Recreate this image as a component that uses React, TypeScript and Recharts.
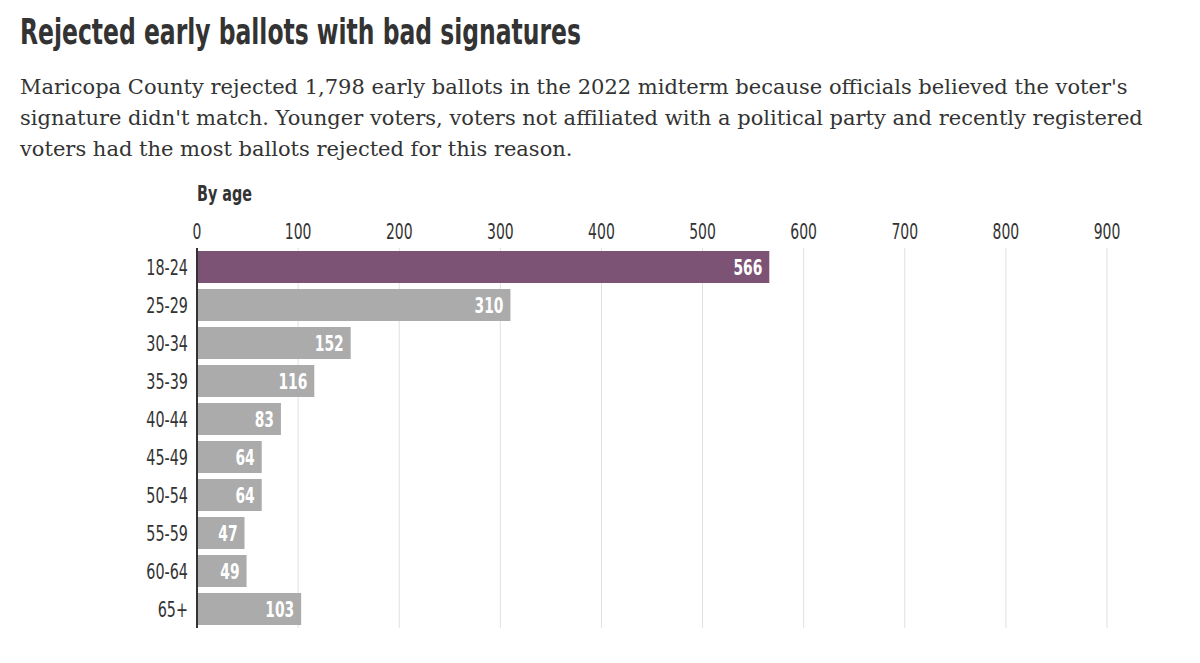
import React from "react";
import {
  BarChart,
  Bar,
  XAxis,
  YAxis,
  CartesianGrid,
  Cell,
  LabelList,
} from "recharts";

const ageGroups = [
  "18-24",
  "25-29",
  "30-34",
  "35-39",
  "40-44",
  "45-49",
  "50-54",
  "55-59",
  "60-64",
  "65+",
];
const rejectedBallots = [566, 310, 152, 116, 83, 64, 64, 47, 49, 103];
const xTicks = [0, 100, 200, 300, 400, 500, 600, 700, 800, 900];

const subtitleLines = [
  "Maricopa County rejected 1,798 early ballots in the 2022 midterm because officials believed the voter's",
  "signature didn't match. Younger voters, voters not affiliated with a political party and recently registered",
  "voters had the most ballots rejected for this reason.",
];

const data = ageGroups.map((age, i) => ({ age, count: rejectedBallots[i] }));

const CONDENSED = '"DejaVu Sans Condensed", "DejaVu Sans", sans-serif';
const SERIF = '"DejaVu Serif", "Liberation Serif", serif';
const TEXT = "#333333";
const HIGHLIGHT = "#7d5375";
const MUTED = "#ababab";

// eslint-disable-next-line @typescript-eslint/no-explicit-any
const ValueTick = ({ x, y, payload }: any) => (
  <text
    transform={`translate(${x},${y}) scale(0.74,1)`}
    textAnchor="middle"
    fill={TEXT}
    fontFamily={CONDENSED}
    fontSize={21}
  >
    {payload.value}
  </text>
);

// eslint-disable-next-line @typescript-eslint/no-explicit-any
const AgeTick = ({ x, y, payload }: any) => (
  <text
    transform={`translate(${x},${y}) scale(0.76,1)`}
    textAnchor="end"
    dy="0.36em"
    fill={TEXT}
    fontFamily={CONDENSED}
    fontSize={21}
  >
    {payload.value}
  </text>
);

// eslint-disable-next-line @typescript-eslint/no-explicit-any
const BarValue = ({ x, y, width, height, value }: any) => (
  <text
    transform={`translate(${x + width - 7},${y + height / 2}) scale(0.7,1)`}
    textAnchor="end"
    dy="0.36em"
    fill="#ffffff"
    fontFamily={CONDENSED}
    fontWeight={700}
    fontSize={22}
  >
    {value}
  </text>
);

export default function App() {
  return (
    <div
      style={{
        position: "absolute",
        top: 0,
        left: 0,
        width: 1200,
        height: 663,
        background: "#ffffff",
        overflow: "hidden",
      }}
    >
      <div
        style={{
          position: "absolute",
          left: 20,
          top: 12,
          fontFamily: CONDENSED,
          fontWeight: 700,
          fontSize: 35,
          color: TEXT,
          whiteSpace: "nowrap",
          transform: "scaleX(0.745)",
          transformOrigin: "0 0",
        }}
      >
        Rejected early ballots with bad signatures
      </div>
      <div
        style={{
          position: "absolute",
          left: 20,
          top: 72,
          fontFamily: SERIF,
          fontSize: 21,
          lineHeight: "31px",
          color: TEXT,
          whiteSpace: "nowrap",
        }}
      >
        {subtitleLines.map((line) => (
          <div key={line}>{line}</div>
        ))}
      </div>
      <div
        style={{
          position: "absolute",
          left: 197,
          top: 182,
          fontFamily: CONDENSED,
          fontWeight: 700,
          fontSize: 21,
          color: TEXT,
          whiteSpace: "nowrap",
          transform: "scaleX(0.76)",
          transformOrigin: "0 0",
        }}
      >
        By age
      </div>
      <div style={{ position: "absolute", left: 0, top: 0 }}>
        <BarChart
          width={1200}
          height={663}
          data={data}
          layout="vertical"
          margin={{ top: 218, right: 93, bottom: 35, left: 0 }}
          barSize={32}
        >
          <CartesianGrid horizontal={false} stroke="#e0e0e0" strokeWidth={1} />
          <XAxis
            type="number"
            orientation="top"
            domain={[0, 900]}
            ticks={xTicks}
            height={30}
            axisLine={false}
            tickLine={false}
            tickSize={0}
            tickMargin={9}
            tick={<ValueTick />}
          />
          <YAxis
            type="category"
            dataKey="age"
            width={197}
            axisLine={{ stroke: TEXT, strokeWidth: 2 }}
            tickLine={false}
            tickSize={0}
            tickMargin={9}
            tick={<AgeTick />}
          />
          <Bar dataKey="count" isAnimationActive={false}>
            {data.map((d, i) => (
              <Cell key={d.age} fill={i === 0 ? HIGHLIGHT : MUTED} />
            ))}
            <LabelList dataKey="count" content={<BarValue />} />
          </Bar>
        </BarChart>
      </div>
    </div>
  );
}
